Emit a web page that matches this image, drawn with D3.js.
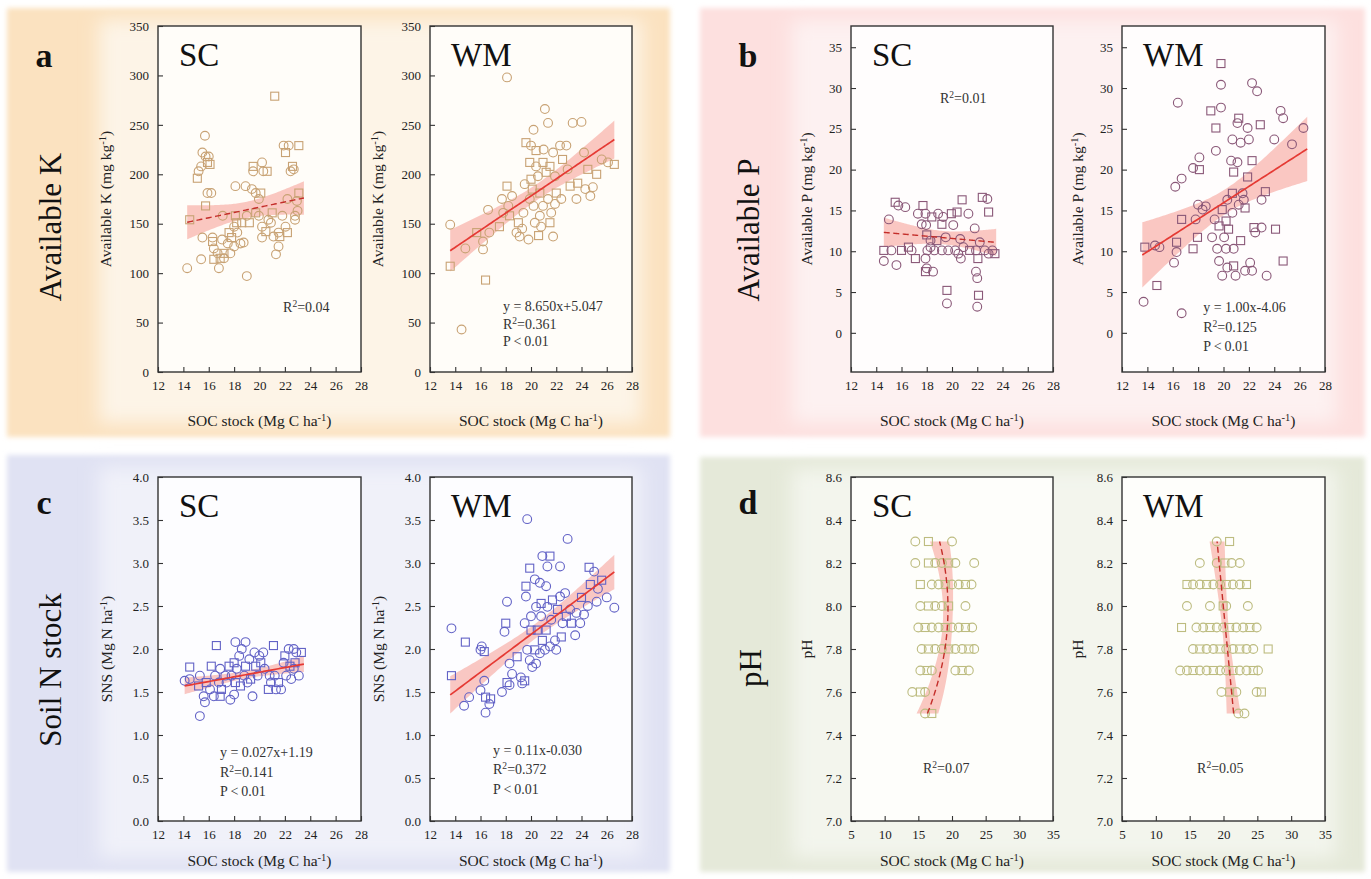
<!DOCTYPE html>
<html>
<head>
<meta charset="utf-8">
<script src="https://cdn.jsdelivr.net/npm/d3@7"></script>
<style>
  html, body { margin: 0; padding: 0; background: #fff; }
  svg { display: block; }
</style>
</head>
<body>
<svg id="fig" width="1371" height="879"></svg>
<script>
// ---------------------------------------------------------------------------
// Data: SOC stock (Mg C ha-1) against soil properties, two regions (SC, WM)
// ---------------------------------------------------------------------------
const sites = ['SC', 'WM'];
const panelLetters = ['a', 'b', 'c', 'd'];
const groupLabels = ['Available K', 'Available P', 'Soil N stock', 'pH'];

const socTicks = [12, 14, 16, 18, 20, 22, 24, 26, 28];
const socTicksWide = [5, 10, 15, 20, 25, 30, 35];
const kTicks = [0, 50, 100, 150, 200, 250, 300, 350];
const pTicks = [0, 5, 10, 15, 20, 25, 30, 35];
const snsTicks = [0, 0.5, 1.0, 1.5, 2.0, 2.5, 3.0, 3.5, 4.0];
const phTicks = [7.0, 7.2, 7.4, 7.6, 7.8, 8.0, 8.2, 8.4, 8.6];

// [SOC, available K]
const availKSC = [[14.3,105],[14.5,154],[15.7,239],[15.5,222],[15.1,196],[15.2,203],[15.75,218],[15.9,212],[16.0,218],[15.4,208],[16.1,210],[15.9,181],[16.2,181],[15.75,168],[15.5,136],[16.3,136],[16.3,132],[16.4,125],[15.4,114],[16.4,114],[16.7,120],[16.8,105],[16.9,115],[17.2,115],[17.05,134],[17.2,120],[17.5,130],[17.7,120],[17.8,136],[18.0,127],[18.1,188],[18.1,158],[18.0,147],[18.25,141],[18.2,151],[18.5,130],[18.75,131],[18.6,151],[18.9,188],[19.0,97],[19.2,151],[19.0,158],[19.4,185],[19.5,208],[19.5,203],[19.7,181],[19.7,161],[19.95,158],[19.95,175],[20.1,181],[20.2,212],[20.3,203],[20.6,203],[20.2,147],[20.2,136],[20.5,142],[20.7,154],[20.9,151],[21.0,161],[21.1,137],[21.3,119],[21.2,279],[21.5,141],[21.5,127],[21.6,137],[21.8,158],[21.9,229],[22.05,222],[22.2,175],[22.05,147],[22.2,141],[22.3,229],[22.45,203],[22.6,208],[22.7,205],[22.8,158],[23.1,229],[22.8,154],[22.95,173],[23.1,181],[23.0,163],[17.1,158],[17.6,141]];

const availKWM = [[13.6,149],[13.6,107],[14.5,43],[14.8,125],[15.7,141],[16.2,132],[16.2,124],[16.4,93],[16.6,164],[16.7,141],[17.5,147],[17.7,175],[17.8,161],[18.1,188],[18.1,298],[18.2,168],[18.3,158],[18.5,178],[18.85,141],[19.0,151],[19.1,137],[19.4,161],[19.6,232],[19.8,134],[19.9,175],[19.9,212],[20.0,229],[20.2,245],[20.0,195],[20.2,168],[20.3,151],[20.4,224],[20.4,208],[20.55,198],[20.7,181],[20.7,158],[20.8,147],[20.95,212],[20.95,168],[21.1,266],[21.2,202],[21.35,175],[21.35,252],[21.5,151],[21.6,161],[21.75,137],[21.5,208],[21.75,222],[21.9,198],[22.0,181],[22.3,229],[22.4,175],[22.5,215],[22.8,229],[22.9,205],[23.1,188],[23.3,252],[23.6,175],[23.7,191],[24.0,253],[24.2,222],[24.5,205],[24.7,178],[24.9,187],[25.2,200],[25.6,215],[26.1,212],[26.6,210],[24.3,185],[19.3,145],[20.6,138],[21.0,225],[19.5,190],[20.1,185],[21.9,170]];

// [SOC, available P]
const availPSC = [[14.6,8.8],[14.6,10.1],[15.0,13.9],[15.2,10.1],[15.5,16.0],[15.6,8.3],[15.75,15.6],[16.0,10.1],[16.3,15.4],[16.8,10.1],[17.1,9.1],[17.3,14.6],[17.6,13.3],[17.7,15.6],[17.9,14.6],[17.95,13.2],[18.0,12.0],[17.9,9.1],[18.0,7.9],[17.9,7.5],[18.05,10.1],[18.3,11.3],[18.4,14.2],[18.5,7.5],[18.6,10.1],[18.8,11.3],[18.9,14.6],[19.2,10.1],[19.2,13.3],[19.3,14.2],[19.5,11.7],[19.6,5.2],[19.6,3.6],[19.7,10.1],[19.95,14.6],[20.1,13.2],[20.25,10.1],[20.4,14.8],[20.5,9.7],[20.7,9.1],[20.8,16.3],[20.9,10.5],[21.3,14.6],[21.4,10.1],[21.8,12.8],[21.9,10.1],[22.05,9.1],[21.9,7.5],[22.0,6.7],[22.1,4.6],[22.0,3.2],[22.2,11.1],[22.4,16.6],[22.8,16.4],[22.6,10.1],[22.9,14.8],[22.9,9.7],[23.2,10.1],[23.4,9.7],[18.3,10.5],[20.65,11.5],[16.55,10.5]];

const availPWM = [[13.7,3.8],[13.8,10.5],[14.6,10.7],[14.95,10.5],[14.75,5.8],[16.1,8.6],[16.3,9.9],[16.3,11.1],[16.2,17.9],[16.4,28.2],[16.7,13.9],[16.7,18.9],[16.7,2.4],[17.6,10.3],[17.6,20.2],[17.8,13.9],[17.95,11.7],[18.0,15.7],[18.1,21.5],[18.1,20.0],[18.35,15.1],[18.6,15.5],[19.0,27.2],[19.1,11.7],[19.3,13.9],[19.4,25.1],[19.4,22.3],[19.5,10.3],[19.65,13.1],[19.65,8.8],[19.8,27.6],[19.8,33.0],[19.8,30.4],[19.9,7.0],[19.9,15.1],[20.05,11.7],[20.2,10.3],[20.2,13.7],[20.3,16.3],[20.3,8.0],[20.4,12.7],[20.6,21.1],[20.7,23.7],[20.7,17.1],[20.7,14.7],[20.8,10.3],[20.8,8.2],[20.95,7.0],[21.1,25.7],[21.2,26.3],[21.2,15.7],[21.35,23.3],[21.35,11.3],[21.5,17.1],[21.6,16.3],[21.7,15.3],[21.7,7.6],[21.9,25.1],[21.9,19.1],[22.0,23.7],[22.1,8.6],[22.25,21.1],[22.25,7.6],[22.25,30.6],[22.4,12.9],[22.5,12.3],[22.65,29.6],[22.9,25.5],[23.0,16.3],[23.0,12.9],[23.3,17.3],[23.4,7.0],[24.0,23.7],[24.1,12.7],[24.5,27.2],[24.7,26.3],[24.7,8.8],[25.4,23.1],[26.3,25.1],[20.8,19.7],[21.1,20.9]];

// [SOC, soil N stock]
const snsSC = [[14.1,1.63],[14.5,1.79],[14.5,1.65],[15.3,1.22],[15.2,1.57],[15.3,1.69],[15.6,1.45],[15.8,1.61],[15.7,1.38],[16.1,1.53],[16.2,1.80],[16.4,1.45],[16.5,1.69],[16.6,2.04],[16.8,1.61],[16.9,1.77],[17.0,1.53],[17.3,1.69],[17.4,1.61],[17.6,1.80],[17.7,1.41],[17.8,1.69],[18.0,1.84],[18.0,1.47],[18.1,2.08],[18.1,1.61],[18.2,1.77],[18.4,1.92],[18.5,1.57],[18.8,1.69],[18.9,2.08],[18.9,1.80],[19.05,1.61],[19.2,1.88],[19.3,1.65],[19.45,1.45],[19.6,1.96],[19.7,1.80],[19.85,1.69],[19.99,1.92],[20.1,1.84],[20.3,1.96],[20.4,1.77],[20.7,1.53],[20.8,1.69],[20.9,1.61],[21.1,2.04],[21.2,1.69],[21.3,1.53],[21.5,1.61],[21.7,1.53],[21.9,1.84],[22.0,1.92],[22.1,1.69],[22.3,2.00],[22.4,1.80],[22.5,1.65],[22.7,2.00],[22.8,1.84],[22.9,1.96],[23.1,1.69],[23.3,1.96],[22.7,1.77],[18.6,2.00],[16.9,1.45]];

const snsWM = [[13.7,2.24],[13.7,1.69],[14.7,1.34],[15.1,1.44],[14.8,2.08],[16.0,1.99],[16.1,2.03],[16.3,1.97],[16.0,1.52],[16.3,1.63],[16.4,1.44],[16.4,1.26],[16.7,1.36],[16.8,1.42],[17.7,1.50],[17.9,2.20],[18.0,2.30],[18.1,2.55],[18.3,1.83],[18.1,1.61],[18.3,1.58],[18.5,1.71],[18.9,1.91],[19.2,1.67],[19.3,1.60],[19.5,1.63],[19.5,2.30],[19.6,2.61],[19.6,2.73],[19.7,3.51],[19.7,1.99],[19.9,2.94],[19.9,1.87],[20.0,2.38],[20.0,2.22],[20.1,1.79],[20.3,2.81],[20.3,1.99],[20.4,2.49],[20.4,1.83],[20.5,2.22],[20.7,2.77],[20.7,1.95],[20.8,2.53],[20.8,2.38],[20.9,3.08],[20.9,2.10],[21.1,1.99],[21.2,2.73],[21.2,2.22],[21.3,2.96],[21.3,2.49],[21.5,3.08],[21.5,2.03],[21.6,2.34],[21.7,2.57],[21.9,2.10],[22.0,1.99],[22.1,2.46],[22.3,2.96],[22.3,2.61],[22.4,2.14],[22.5,2.30],[22.7,2.65],[22.8,2.38],[22.9,3.28],[23.1,2.46],[23.2,2.30],[23.5,2.16],[23.6,2.42],[24.0,2.60],[24.2,2.40],[24.5,2.50],[24.7,2.75],[25.0,2.90],[25.3,2.70],[25.6,2.80],[26.0,2.60],[26.6,2.48],[24.6,2.95],[23.9,2.30],[25.2,2.55]];

// [SOC, pH]
const phSC = [[14.55,8.3],[16.5,8.3],[20.0,8.3],
  [14.55,8.2],[16.5,8.2],[17.5,8.2],[18.5,8.2],[19.5,8.2],[20.5,8.2],[23.3,8.2],
  [15.3,8.1],[17.0,8.1],[18.0,8.1],[19.0,8.1],[20.0,8.1],[21.0,8.1],[22.0,8.1],[22.9,8.1],
  [15.3,8.0],[16.5,8.0],[17.5,8.0],[18.5,8.0],[19.5,8.0],[22.0,8.0],
  [15.0,7.9],[16.0,7.9],[17.0,7.9],[18.0,7.9],[19.0,7.9],[20.0,7.9],[21.0,7.9],[22.0,7.9],[23.0,7.9],
  [15.5,7.8],[16.5,7.8],[17.5,7.8],[18.5,7.8],[19.5,7.8],[20.5,7.8],[21.5,7.8],[22.5,7.8],[23.3,7.8],
  [15.3,7.7],[16.3,7.7],[17.0,7.7],[20.5,7.7],[21.5,7.7],[22.5,7.7],
  [14.1,7.6],[15.3,7.6],[16.0,7.6],
  [16.0,7.5],[17.0,7.5]];

const phWM = [[19.0,8.3],[20.9,8.3],
  [16.5,8.2],[19.0,8.2],[20.2,8.2],[21.2,8.2],[22.4,8.2],
  [14.6,8.1],[15.5,8.1],[16.5,8.1],[17.5,8.1],[18.5,8.1],[19.5,8.1],[20.4,8.1],[21.4,8.1],[22.4,8.1],[23.4,8.1],
  [14.6,8.0],[18.0,8.0],[19.95,8.0],[20.4,8.0],[23.6,8.0],
  [13.8,7.9],[16.0,7.9],[17.0,7.9],[18.0,7.9],[19.0,7.9],[19.95,7.9],[20.9,7.9],[21.9,7.9],[22.9,7.9],[23.9,7.9],[24.9,7.9],
  [15.5,7.8],[16.5,7.8],[17.5,7.8],[18.5,7.8],[19.5,7.8],[20.4,7.8],[21.4,7.8],[22.4,7.8],[23.4,7.8],[24.4,7.8],[26.6,7.8],
  [13.6,7.7],[14.6,7.7],[15.5,7.7],[16.5,7.7],[17.5,7.7],[18.5,7.7],[19.5,7.7],[20.4,7.7],[21.4,7.7],[22.4,7.7],[23.4,7.7],[24.4,7.7],[25.1,7.7],
  [19.7,7.6],[20.9,7.6],[21.9,7.6],[24.9,7.6],[25.6,7.6],
  [22.2,7.5],[23.1,7.5]];

// Fitted relations: response = c0 + c1*u + c2*u^2 with u = predictor - centre.
// 'on' names the predictor axis; range is the predictor span of the drawn fit;
// t is the multiplier of the standard error used for the shaded band.
const fitKSC  = { coef: [113.3, 2.67],         centre: 0,   on: 'x', range: [14.3, 23.5], dashed: true,  t: 1.99 };
const fitKWM  = { coef: [5.047, 8.650],        centre: 0,   on: 'x', range: [13.6, 26.6], dashed: false, t: 1.99 };
const fitPSC  = { coef: [14.33, -0.138],       centre: 0,   on: 'x', range: [14.6, 23.5], dashed: true,  t: 1.99 };
const fitPWM  = { coef: [-4.06, 1.00],         centre: 0,   on: 'x', range: [13.6, 26.6], dashed: false, t: 1.99 };
const fitNSC  = { coef: [1.19, 0.027],         centre: 0,   on: 'x', range: [14.1, 23.5], dashed: false, t: 1.99 };
const fitNWM  = { coef: [-0.030, 0.11],        centre: 0,   on: 'x', range: [13.6, 26.6], dashed: false, t: 1.99 };
const fitPhSC = { coef: [18.95, 4.82, -12.83], centre: 7.8, on: 'y', range: [7.5, 8.3],   dashed: true,  t: 1.99 };
const fitPhWM = { coef: [44.45, -3.06],        centre: 0,   on: 'y', range: [7.5, 8.3],   dashed: true,  t: 1.2 };

// Statistics printed in each plot ("^{..}" marks a superscript)
const noteKSC  = ['R^{2}=0.04'];
const noteKWM  = ['y = 8.650x+5.047', 'R^{2}=0.361', 'P\u2009<\u20090.01'];
const notePSC  = ['R^{2}=0.01'];
const notePWM  = ['y = 1.00x-4.06', 'R^{2}=0.125', 'P\u2009<\u20090.01'];
const noteNSC  = ['y = 0.027x+1.19', 'R^{2}=0.141', 'P\u2009<\u20090.01'];
const noteNWM  = ['y = 0.11x-0.030', 'R^{2}=0.372', 'P\u2009<\u20090.01'];
const notePhSC = ['R^{2}=0.07'];
const notePhWM = ['R^{2}=0.05'];

// ---------------------------------------------------------------------------
// Layout and style
// ---------------------------------------------------------------------------
const SERIF = "'Liberation Serif','Times New Roman',Times,serif";
const svg = d3.select('#fig');

const colBoxes = [[[158, 361], [430, 632]], [[851, 1053], [1122, 1325]]];
const rowBoxes = [[26, 372], [477, 821]];

const panelStyle = [
  { x: 7,   y: 8,   w: 663, h: 429, strong: '#fbe2c0', light: '#fdf4e7', plot: '#fffdf9', letterX: 44,  letterY: 67,  groupX: 50,  groupY: 227, mark: '#c8a274', yTitleGap: 47 },
  { x: 700, y: 8,   w: 665, h: 429, strong: '#fde0df', light: '#fdf1f1', plot: '#fffdfd', letterX: 748, letterY: 67,  groupX: 748, groupY: 230, mark: '#8a5878', yTitleGap: 39 },
  { x: 7,   y: 455, w: 663, h: 417, strong: '#e0e2f3', light: '#f0f1f9', plot: '#fdfdff', letterX: 44,  letterY: 514, groupX: 50,  groupY: 670, mark: '#6262c6', yTitleGap: 46 },
  { x: 700, y: 457, w: 665, h: 415, strong: '#e5e9d9', light: '#f3f5ed', plot: '#fefefb', letterX: 748, letterY: 514, groupX: 750, groupY: 668, mark: '#bdbc80', yTitleGap: 39 }
];

const panelData = [
  { xTicks: socTicks, xDomain: [12, 28], yTicks: kTicks, yDomain: [0, 350], yFmt: d3.format('d'),
    yTitle: 'Available K (mg kg^{-1})', series: [availKSC, availKWM], fits: [fitKSC, fitKWM], notes: [noteKSC, noteKWM],
    notePos: [[0.616, 0.827], [0.361, 0.824]], noteStep: 17.5 },
  { xTicks: socTicks, xDomain: [12, 28], yTicks: pTicks, yDomain: [-4.8, 37.6], yFmt: d3.format('d'),
    yTitle: 'Available P (mg kg^{-1})', series: [availPSC, availPWM], fits: [fitPSC, fitPWM], notes: [notePSC, notePWM],
    notePos: [[0.44, 0.223], [0.40, 0.827]], noteStep: 19.5 },
  { xTicks: socTicks, xDomain: [12, 28], yTicks: snsTicks, yDomain: [0, 4], yFmt: d3.format('.1f'),
    yTitle: 'SNS (Mg N ha^{-1})', series: [snsSC, snsWM], fits: [fitNSC, fitNWM], notes: [noteNSC, noteNWM],
    notePos: [[0.305, 0.814], [0.312, 0.808]], noteStep: 19.5 },
  { xTicks: socTicksWide, xDomain: [5, 35], yTicks: phTicks, yDomain: [7.0, 8.6], yFmt: d3.format('.1f'),
    yTitle: 'pH', series: [phSC, phWM], fits: [fitPhSC, fitPhWM], notes: [notePhSC, notePhWM],
    notePos: [[0.356, 0.86], [0.37, 0.86]], noteStep: 19 }
];

const xTitle = 'SOC stock (Mg C ha^{-1})';

// ---------------------------------------------------------------------------
// Helpers
// ---------------------------------------------------------------------------
// Writes a string into a <text>, turning "^{..}" into superscript tspans
function richText(sel, str) {
  const parts = str.split(/\^\{([^}]*)\}/);
  parts.forEach((p, i) => {
    if (!p) return;
    const t = sel.append('tspan').text(p);
    if (i % 2 === 1) t.attr('baseline-shift', 'super').attr('font-size', '68%');
  });
  return sel;
}

function fitValue(fit, p) {
  const u = p - fit.centre;
  return fit.coef[0] + (fit.coef[1] || 0) * u + (fit.coef[2] || 0) * u * u;
}

// Confidence band of the fitted relation, from the scatter around it
function fitBand(points, fit) {
  const pred = d => fit.on === 'x' ? d[0] : d[1];
  const resp = d => fit.on === 'x' ? d[1] : d[0];
  const n = points.length;
  const pm = d3.mean(points, pred);
  const spp = d3.sum(points, d => (pred(d) - pm) ** 2);
  const sse = d3.sum(points, d => (resp(d) - fitValue(fit, pred(d))) ** 2);
  const s = Math.sqrt(sse / (n - 2));
  const [lo, hi] = fit.range;
  return d3.range(0, 81).map(i => {
    const p = lo + (hi - lo) * i / 80;
    const c = fitValue(fit, p);
    const hw = fit.t * s * Math.sqrt(1 / n + (p - pm) ** 2 / spp);
    return { p, c, lo: c - hw, hi: c + hw };
  });
}

// ---------------------------------------------------------------------------
// Background blocks
// ---------------------------------------------------------------------------
const defs = svg.append('defs');
defs.append('filter').attr('id', 'soft').attr('x', '-10%').attr('y', '-10%').attr('width', '120%').attr('height', '120%')
  .append('feGaussianBlur').attr('stdDeviation', 9);
defs.append('filter').attr('id', 'soft2').attr('x', '-10%').attr('y', '-10%').attr('width', '120%').attr('height', '120%')
  .append('feGaussianBlur').attr('stdDeviation', 2.5);

panelStyle.forEach((ps, k) => {
  const g = svg.append('g');
  g.append('rect').attr('x', ps.x).attr('y', ps.y).attr('width', ps.w).attr('height', ps.h)
    .attr('fill', ps.strong).attr('filter', 'url(#soft2)');
  g.append('rect').attr('x', ps.x + 92).attr('y', ps.y + 12).attr('width', ps.w - 120).attr('height', ps.h - 26)
    .attr('fill', ps.light).attr('filter', 'url(#soft)');

  g.append('text').attr('x', ps.letterX).attr('y', ps.letterY)
    .attr('text-anchor', 'middle').attr('font-family', SERIF).attr('font-weight', 'bold')
    .attr('font-size', 34).attr('fill', '#111').text(panelLetters[k]);

  g.append('text').attr('transform', `translate(${ps.groupX},${ps.groupY}) rotate(-90)`)
    .attr('text-anchor', 'middle').attr('dominant-baseline', 'central')
    .attr('font-family', SERIF).attr('font-size', 31).attr('fill', '#111').text(groupLabels[k]);
});

// ---------------------------------------------------------------------------
// Scatter plots
// ---------------------------------------------------------------------------
panelData.forEach((pd, k) => {
  const ps = panelStyle[k];
  const col = colBoxes[k % 2];
  const row = rowBoxes[Math.floor(k / 2)];
  const bottomRow = k >= 2;

  sites.forEach((site, j) => {
    const [x0, x1] = col[j];
    const [y0, y1] = row;
    const xs = d3.scaleLinear().domain(pd.xDomain).range([x0, x1]);
    const ys = d3.scaleLinear().domain(pd.yDomain).range([y1, y0]);
    const g = svg.append('g');
    const clipId = `clip-${k}-${j}`;
    defs.append('clipPath').attr('id', clipId)
      .append('rect').attr('x', x0).attr('y', y0).attr('width', x1 - x0).attr('height', y1 - y0);

    g.append('rect').attr('x', x0).attr('y', y0).attr('width', x1 - x0).attr('height', y1 - y0)
      .attr('fill', ps.plot);

    const pts = pd.series[j];
    const fit = pd.fits[j];
    const band = fitBand(pts, fit);
    const plotG = g.append('g').attr('clip-path', `url(#${clipId})`);

    const area = fit.on === 'x'
      ? d3.area().x(d => xs(d.p)).y0(d => ys(d.lo)).y1(d => ys(d.hi))
      : d3.area().y(d => ys(d.p)).x0(d => xs(d.lo)).x1(d => xs(d.hi));
    plotG.append('path').datum(band).attr('d', area)
      .attr('fill', '#f59a92').attr('opacity', 0.55);

    // open markers: circles mixed with squares
    const marks = plotG.append('g').attr('fill', 'none').attr('stroke', ps.mark).attr('stroke-width', 1.1);
    pts.forEach((d, i) => {
      const cx = xs(d[0]), cy = ys(d[1]);
      if (i % 3 === 1) {
        marks.append('rect').attr('x', cx - 4).attr('y', cy - 4).attr('width', 8).attr('height', 8);
      } else {
        marks.append('circle').attr('cx', cx).attr('cy', cy).attr('r', 4.4);
      }
    });

    const line = fit.on === 'x'
      ? d3.line().x(d => xs(d.p)).y(d => ys(d.c))
      : d3.line().y(d => ys(d.p)).x(d => xs(d.c));
    plotG.append('path').datum(band).attr('d', line)
      .attr('fill', 'none')
      .attr('stroke', fit.dashed ? '#c42e2a' : '#e53a34')
      .attr('stroke-width', fit.dashed ? 1.4 : 1.7)
      .attr('stroke-dasharray', fit.dashed ? '6,3.5' : null);

    // frame
    g.append('rect').attr('x', x0).attr('y', y0).attr('width', x1 - x0).attr('height', y1 - y0)
      .attr('fill', 'none').attr('stroke', '#333').attr('stroke-width', 1.4);

    // axes (ticks point into the plot)
    const xAxis = g.append('g').attr('transform', `translate(0,${y1})`)
      .call(d3.axisBottom(xs).tickValues(pd.xTicks).tickFormat(d3.format('d'))
        .tickSizeInner(-5).tickSizeOuter(0).tickPadding(9));
    const yAxis = g.append('g').attr('transform', `translate(${x0},0)`)
      .call(d3.axisLeft(ys).tickValues(pd.yTicks).tickFormat(pd.yFmt)
        .tickSizeInner(-5).tickSizeOuter(0).tickPadding(9));
    [xAxis, yAxis].forEach(a => {
      a.select('.domain').remove();
      a.selectAll('line').attr('stroke', '#333').attr('stroke-width', 1.1);
      a.selectAll('text').attr('font-family', SERIF).attr('font-size', 13).attr('fill', '#222');
    });

    // axis titles
    richText(g.append('text')
      .attr('x', (x0 + x1) / 2).attr('y', y1 + (bottomRow ? 45 : 54))
      .attr('text-anchor', 'middle').attr('font-family', SERIF).attr('font-size', 15.5).attr('fill', '#222'), xTitle);
    richText(g.append('text')
      .attr('transform', `translate(${x0 - ps.yTitleGap},${(y0 + y1) / 2}) rotate(-90)`)
      .attr('text-anchor', 'middle').attr('font-family', SERIF).attr('font-size', 15.5).attr('fill', '#222'), pd.yTitle);

    // site name
    g.append('text').attr('x', x0 + 21).attr('y', y0 + 40)
      .attr('font-family', SERIF).attr('font-size', 33).attr('fill', '#111').text(site);

    // statistics
    const [fx, fy] = pd.notePos[j];
    pd.notes[j].forEach((line, i) => {
      richText(g.append('text')
        .attr('x', x0 + fx * (x1 - x0)).attr('y', y0 + fy * (y1 - y0) + i * pd.noteStep)
        .attr('font-family', SERIF).attr('font-size', 14).attr('fill', '#333'), line);
    });
  });
});
</script>
</body>
</html>
